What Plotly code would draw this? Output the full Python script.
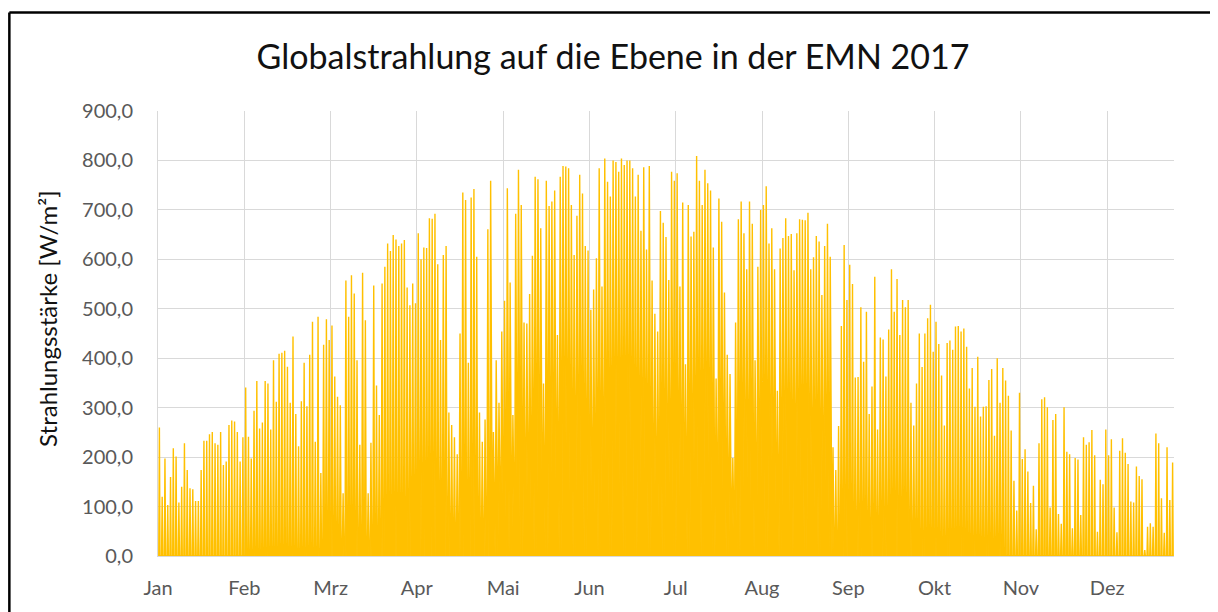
import plotly.graph_objects as go

# daily peak irradiance [W/m²], one list per month
JAN = [260, 120, 197, 103, 160, 218, 201, 108, 140, 228, 174, 137, 135, 111, 111, 174,
       233, 233, 246, 251, 228, 225, 251, 184, 191, 265, 274, 272, 251, 191, 240]
FEB = [341, 241, 197, 294, 354, 258, 270, 354, 349, 256, 396, 312, 409, 411, 415, 383,
       310, 444, 287, 222, 313, 391, 303, 407, 474, 231, 484, 168]
MRZ = [427, 479, 437, 466, 363, 322, 305, 127, 557, 484, 568, 531, 396, 225, 573, 477,
       127, 229, 547, 345, 285, 551, 585, 632, 617, 649, 640, 627, 632, 639, 543]
APR = [507, 551, 511, 653, 600, 624, 623, 683, 682, 692, 590, 437, 609, 627, 290, 265,
       240, 206, 450, 735, 720, 391, 725, 742, 605, 290, 231, 276, 661, 759]
MAI = [251, 396, 310, 454, 516, 744, 553, 285, 692, 781, 710, 472, 470, 530, 607, 767,
       762, 663, 349, 759, 708, 717, 739, 447, 767, 789, 788, 784, 710, 609, 688]
JUN = [771, 733, 627, 618, 498, 539, 602, 784, 545, 804, 757, 727, 800, 797, 777, 804,
       791, 800, 800, 784, 727, 771, 658, 786, 620, 789, 557, 490, 454, 698]
JUL = [674, 645, 558, 777, 759, 774, 545, 715, 388, 710, 646, 656, 809, 759, 710, 781,
       754, 739, 624, 359, 723, 676, 533, 407, 368, 198, 472, 681, 717, 653, 580]
AUG = [717, 672, 396, 585, 700, 710, 748, 632, 663, 580, 334, 622, 643, 683, 647, 651,
       578, 653, 681, 680, 679, 694, 580, 604, 647, 636, 528, 627, 672, 605, 220]
SEP = [174, 263, 465, 629, 518, 589, 550, 361, 362, 503, 393, 494, 287, 343, 565, 256,
       442, 438, 363, 458, 580, 494, 560, 447, 518, 503, 518, 310, 264, 349]
OKT = [450, 382, 450, 481, 508, 413, 474, 429, 365, 264, 431, 436, 417, 464, 465, 454,
       460, 423, 339, 380, 302, 403, 282, 302, 303, 356, 378, 243, 400, 310, 380]
NOV = [355, 324, 254, 152, 92, 330, 196, 216, 171, 107, 142, 54, 228, 317, 321, 301,
       98, 275, 287, 85, 65, 301, 211, 206, 56, 198, 195, 83, 240, 225]
DEZ = [230, 255, 204, 49, 154, 145, 256, 204, 236, 98, 48, 213, 238, 209, 186, 110,
       108, 181, 162, 155, 12, 59, 66, 59, 248, 228, 117, 47, 220, 113, 189]

MONTHS = ["Jan", "Feb", "Mrz", "Apr", "Mai", "Jun", "Jul", "Aug", "Sep", "Okt", "Nov", "Dez"]
# approximate hours of daylight per month (zero irradiance outside)
DAY_LENGTH_H = [8.5, 10.0, 11.8, 13.6, 15.2, 16.2, 15.8, 14.4, 12.6, 10.8, 9.0, 8.0]

monthly = [JAN, FEB, MRZ, APR, MAI, JUN, JUL, AUG, SEP, OKT, NOV, DEZ]

# build the x/y series: sunrise 0 -> noon peak -> sunset 0, x in days
# (base drawn a bit wider than the day so the triangles read like Excel's dense hourly line)
x, y = [], []
day = 0
for m, peaks in enumerate(monthly):
    half = DAY_LENGTH_H[m] * 1.25 / 48
    for p in peaks:
        noon = day + 0.5
        x += [noon - half, noon, noon + half]
        y += [0, p, 0]
        day += 1

# Excel places a category label every 744 hours (31 days)
tick_days = list(range(0, 365, 31))

fig = go.Figure()
fig.add_trace(
    go.Scatter(
        x=x,
        y=y,
        mode="lines",
        line=dict(color="#FFC000", width=1.4),
        fill="tozeroy",
        fillcolor="#FFC000",
        showlegend=False,
    )
)

# chart border (left/top black, right grey)
fig.add_shape(type="line", xref="paper", yref="paper", x0=-0.1463, x1=-0.1463,
              y0=-0.2, y1=1.2213, line=dict(color="black", width=2.5))
fig.add_shape(type="line", xref="paper", yref="paper", x0=-0.1463, x1=1.0418,
              y0=1.2213, y1=1.2213, line=dict(color="black", width=2.5))
fig.add_shape(type="line", xref="paper", yref="paper", x0=1.0418, x1=1.0418,
              y0=-0.2, y1=1.2213, line=dict(color="#9a9a9a", width=1.5))

# y axis title placed as an annotation so it can sit as far left as in Excel
fig.add_annotation(
    text="Strahlungsstärke [W/m²]",
    xref="paper", yref="paper",
    x=-0.1083, y=0.535,
    xanchor="center", yanchor="middle",
    textangle=-90,
    showarrow=False,
    font=dict(size=24, color="#111111"),
)

# page body has an 8px margin, so the figure is sized to end at the window edge
fig.update_layout(
    width=1210,
    height=604,
    margin=dict(l=150, r=44, t=103, b=56),
    paper_bgcolor="white",
    plot_bgcolor="white",
    separators=",.",
    font=dict(family="Lato, Open Sans, sans-serif", color="#595959"),
    title=dict(
        text="Globalstrahlung auf die Ebene in der EMN 2017",
        x=0.5,
        xanchor="center",
        y=1 - 49 / 604,
        yanchor="middle",
        font=dict(size=34, color="#111111"),
    ),
    xaxis=dict(
        range=[0, 365],
        tickvals=tick_days,
        ticktext=MONTHS,
        showgrid=True,
        gridcolor="#D9D9D9",
        showline=True,
        linecolor="#D9D9D9",
        zeroline=False,
        ticks="",
        ticklabelstandoff=14,
        tickfont=dict(size=20, color="#595959"),
    ),
    yaxis=dict(
        range=[0, 900],
        dtick=100,
        tickformat=".1f",
        showgrid=True,
        gridcolor="#D9D9D9",
        showline=True,
        linecolor="#D9D9D9",
        zeroline=False,
        ticks="",
        ticklabelstandoff=20,
        tickfont=dict(size=20, color="#595959"),
    ),
)

fig.write_html("out.html")
